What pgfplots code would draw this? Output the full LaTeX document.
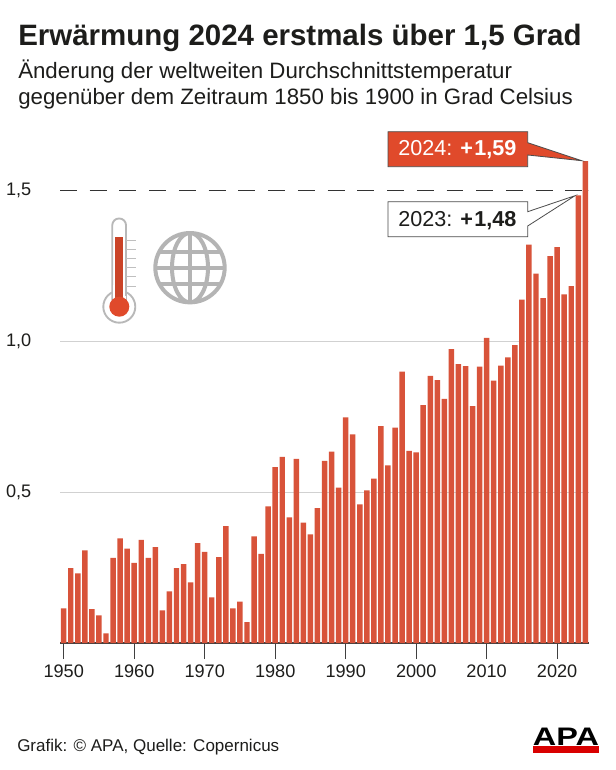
\documentclass[border=0pt]{standalone}
\usepackage{fontspec}
\setmainfont{Liberation Sans}
\usepackage{pgfplots}
\pgfplotsset{compat=1.18}
\definecolor{barred}{HTML}{D8533A}
\definecolor{boxred}{HTML}{E04A2B}
\definecolor{txt}{HTML}{1D1D1B}
\definecolor{globe}{HTML}{B4B4B4}
\newcommand{\fs}[1]{\fontsize{#1}{#1}\selectfont}
\begin{document}
\begin{tikzpicture}[x=0.75pt,y=-0.75pt]
\useasboundingbox (0,0) rectangle (616,770);
\fill[white] (0,0) rectangle (616,770);
% titles
\node[anchor=base west,inner sep=0,text=txt,font=\fs{22.1}\bfseries] at (18,46) {Erwärmung 2024 erstmals über 1,5 Grad};
\node[anchor=base west,inner sep=0,text=txt,font=\fs{16.7}] at (18,79) {Änderung der weltweiten Durchschnittstemperatur};
\node[anchor=base west,inner sep=0,text=txt,font=\fs{16.7}] at (18,105) {gegenüber dem Zeitraum 1850 bis 1900 in Grad Celsius};
\begin{axis}[
  at={(45pt,-482.25pt)},anchor=origin,
  scale only axis,
  width=396.5pt,height=373.1pt,
  xmin=1949.475,xmax=2024.47,ymin=0,ymax=1.65,
  axis x line=bottom,axis y line=left,
  y axis line style={draw=none},
  x axis line style={draw=black!75,line width=0.9pt,-},
  xtick={1950,1960,...,2020},
  ytick={0.5,1,1.5},
  x tick label style={/pgf/number format/1000 sep=,font=\fs{13.6},text=txt,yshift=-1pt},
  y tick label style={/pgf/number format/fixed,/pgf/number format/fixed zerofill,/pgf/number format/precision=1,/pgf/number format/use comma,font=\fs{13.6},text=txt,xshift=-6pt},
  /pgf/number format/assume math mode=true,
  tick align=outside,
  xtick style={draw=black!75,line width=0.9pt},
  ytick style={draw=none},
  major tick length=12pt,
  ymajorgrids,
  grid style={draw=black!18,line width=0.6pt},
  clip=false,
]
\addplot[draw=white,line width=1.2pt,forget plot] coordinates {(1949.475,1.5)(2023.85,1.5)};
\addplot[draw=black!80,line width=0.7pt,dash pattern=on 12.7pt off 9.6pt,forget plot] coordinates {(1949.475,1.5)(2023.85,1.5)};
\addplot[ybar,bar width=4.1pt,bar shift=0pt,fill=barred,draw=none] coordinates {
(1950,.115)(1951,.248)(1952,.231)(1953,.307)(1954,.112)(1955,.092)(1956,.032)(1957,.282)(1958,.347)(1959,.313)
(1960,.266)(1961,.342)(1962,.282)(1963,.318)(1964,.108)(1965,.171)(1966,.248)(1967,.262)(1968,.201)(1969,.331)
(1970,.302)(1971,.151)(1972,.285)(1973,.388)(1974,.115)(1975,.137)(1976,.069)(1977,.354)(1978,.296)(1979,.453)
(1980,.583)(1981,.617)(1982,.417)(1983,.611)(1984,.399)(1985,.360)(1986,.447)(1987,.604)(1988,.635)(1989,.515)
(1990,.748)(1991,.692)(1992,.460)(1993,.506)(1994,.545)(1995,.719)(1996,.589)(1997,.714)(1998,.900)(1999,.637)
(2000,.632)(2001,.789)(2002,.886)(2003,.872)(2004,.810)(2005,.975)(2006,.925)(2007,.918)(2008,.786)(2009,.917)
(2010,1.012)(2011,.870)(2012,.920)(2013,.947)(2014,.988)(2015,1.139)(2016,1.321)(2017,1.225)(2018,1.144)(2019,1.283)
(2020,1.313)(2021,1.156)(2022,1.184)(2023,1.485)(2024,1.598)};
\end{axis}
% callouts
\path[fill=boxred,draw=black!70,line width=0.6pt,line join=miter]
  (388,131.7)--(527.7,131.7)--(527.7,142.7)--(581.7,160.7)--(527.7,155)--(527.7,166.7)--(388,166.7)--cycle;
\node[anchor=base west,inner sep=0,text=white,font=\fs{16.2}] at (398,156) {2024: \textbf{+\kern1pt 1,59}};
\path[fill=white,draw=black!70,line width=0.6pt,line join=miter]
  (388,201.7)--(527.7,201.7)--(527.7,211.7)--(575,195.7)--(527.7,226)--(527.7,236.7)--(388,236.7)--cycle;
\node[anchor=base west,inner sep=0,text=txt,font=\fs{16.2}] at (398,226) {2023: \textbf{+\kern1pt 1,48}};
% thermometer
\draw[black!28,line width=1.4pt,fill=white] (119.3,306.7) circle[radius=12pt];
\draw[black!28,line width=1.4pt,fill=white,rounded corners=5pt] (112.3,300) -- (112.3,218.5) -- (126,218.5) -- (126,300);
\fill[white] (112.9,285) rectangle (125.4,300);
\fill[white] (113,296) rectangle (125.6,304);
\fill[boxred!90!black] (115.2,237.3) rectangle (122.7,300);
\fill[boxred] (119.3,306.7) circle[radius=7.5pt];
\foreach \yy in {240,249.3,258.3,267.7,276.7,286}
  \draw[black!25,line width=0.6pt] (126,\yy)--(135.7,\yy);
% globe
\begin{scope}
\draw[globe,line width=3pt] (190,267.7) circle[radius=26pt];
\clip (190,267.7) circle[radius=26pt];
\draw[globe,line width=3pt] (190,230)--(190,305);
\draw[globe,line width=3pt] (150,267.7)--(230,267.7);
\draw[globe,line width=3pt] (150,251.5)--(230,251.5);
\draw[globe,line width=3pt] (150,283.5)--(230,283.5);
\draw[globe,line width=3pt] (190,267.7) ellipse[x radius=18,y radius=34.7];
\end{scope}
% footer
\node[anchor=base west,inner sep=0,text=txt,font=\fs{12.75}] at (17,751) {Grafik: © APA, Quelle: Copernicus};
% logo
\node[anchor=base,inner sep=0,text=black,font=\fs{19}\bfseries,xscale=1.28] at (566,745) {APA};
\fill[red!85!black] (533,746) rectangle (599,753);
\end{tikzpicture}
\end{document}
